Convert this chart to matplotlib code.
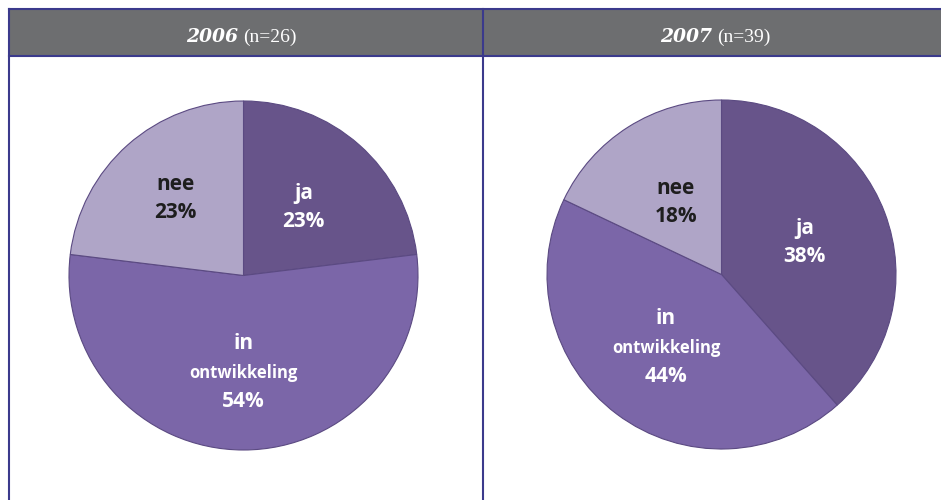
import matplotlib.pyplot as plt
from matplotlib.patches import Rectangle
import numpy as np

# data (counts per year; percentages shown in the chart)
categories = ["ja", "in ontwikkeling", "nee"]
counts_2006 = [6, 14, 6]
counts_2007 = [15, 17, 7]
pct_2006 = ["23%", "54%", "23%"]
pct_2007 = ["38%", "44%", "18%"]
years = ["2006", "2007"]
n_labels = ["(n=26)", "(n=39)"]

colors = ["#67548a", "#7b66a8", "#afa5c7"]
text_colors = ["white", "white", "#1e1e1e"]
border = "#3b3a8c"

W, H = 941, 500
fig = plt.figure(figsize=(W / 100, H / 100), dpi=100)


def px(x, y):
    return x / W, 1 - y / H


# header band + frame lines
fig.patches.append(Rectangle(px(9, 56), (W - 9) / W, 47 / H, transform=fig.transFigure,
                             facecolor="#6d6e70", edgecolor="none", zorder=0))
for yy in (9, 56):
    fig.add_artist(plt.Line2D([9 / W, 1], [1 - yy / H] * 2, color=border, lw=1.5))
for xx in (9, 483):
    fig.add_artist(plt.Line2D([xx / W] * 2, [1 - 9 / H, 0], color=border, lw=1.5))

# header titles
for yr, nl, xe in zip(years, n_labels, [238, 712]):
    fig.text(*px(xe, 37), yr, ha="right", va="center", color="white",
             fontsize=13.5, fontweight="bold", fontstyle="italic", family="DejaVu Serif")
    fig.text(*px(xe + 5, 37), nl, ha="left", va="center", color="white",
             fontsize=14, family="Liberation Serif")

centers = [(243.5, 275.5), (721.5, 274.5)]
r = 174.5

# label distance factor from centre (fraction of radius), per slice
label_dist = [[0.52, 0.56, 0.59], [0.51, 0.53, 0.49]]

for (cx, cy), counts, pcts, dists in zip(centers, [counts_2006, counts_2007],
                                         [pct_2006, pct_2007], label_dist):
    x0, y1 = px(cx - r, cy + r)
    ax = fig.add_axes([x0, y1, 2 * r / W, 2 * r / H])
    wedges, _ = ax.pie(counts, colors=colors, startangle=90, counterclock=False,
                       wedgeprops=dict(edgecolor="#5b4a82", linewidth=0.8))
    ax.set_xlim(-1, 1)
    ax.set_ylim(-1, 1)
    ax.set_aspect("equal")
    ax.axis("off")
    for w, cat, pct, d, tc in zip(wedges, categories, pcts, dists, text_colors):
        ang = np.deg2rad((w.theta1 + w.theta2) / 2)
        lx, ly = d * np.cos(ang), d * np.sin(ang)
        if cat == "in ontwikkeling":
            ax.text(lx, ly + 0.17, "in", ha="center", va="center", color=tc,
                    fontsize=15, fontweight="bold", family="Open Sans")
            ax.text(lx, ly, "ontwikkeling", ha="center", va="center", color=tc,
                    fontsize=12, fontweight="bold", family="Open Sans")
            ax.text(lx, ly - 0.16, pct, ha="center", va="center", color=tc,
                    fontsize=15, fontweight="bold", family="Open Sans")
        else:
            ax.text(lx, ly + 0.08, cat, ha="center", va="center", color=tc,
                    fontsize=15, fontweight="bold", family="Open Sans")
            ax.text(lx, ly - 0.08, pct, ha="center", va="center", color=tc,
                    fontsize=15, fontweight="bold", family="Open Sans")

fig.savefig("out.png", dpi=100)
